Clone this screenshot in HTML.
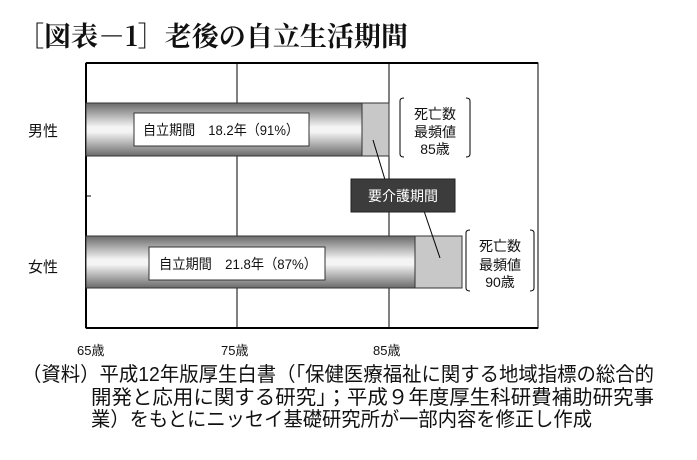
<!DOCTYPE html>
<html><head><meta charset="utf-8"><style>
body{margin:0;background:#fff;}
svg text{font-family:"Liberation Sans","Noto Sans CJK JP",sans-serif;fill:#111;}
</style></head><body>
<svg width="697" height="455" viewBox="0 0 697 455" xmlns="http://www.w3.org/2000/svg">
<defs>
<linearGradient id="g" x1="0" y1="0" x2="0" y2="1">
<stop offset="0" stop-color="#6a6a6a"/><stop offset="0.45" stop-color="#f4f4f4"/><stop offset="0.55" stop-color="#f4f4f4"/><stop offset="1" stop-color="#6a6a6a"/>
</linearGradient>
</defs>
<text x="17" y="46" font-size="27" font-weight="bold" style="font-family:'Noto Serif CJK SC','Liberation Serif',serif" textLength="391" lengthAdjust="spacingAndGlyphs">［図表－1］老後の自立生活期間</text>
<rect x="86" y="63" width="452" height="265" fill="#fff" stroke="#000" stroke-width="1"/>
<line x1="86" y1="63" x2="538" y2="63" stroke="#000" stroke-width="2"/>
<line x1="86" y1="328" x2="538" y2="328" stroke="#000" stroke-width="2"/>
<line x1="86" y1="63" x2="86" y2="328" stroke="#000" stroke-width="2"/>
<line x1="237" y1="63" x2="237" y2="328" stroke="#000"/>
<line x1="389" y1="63" x2="389" y2="328" stroke="#000"/>
<line x1="86" y1="196" x2="91" y2="196" stroke="#000"/>
<rect x="86" y="103" width="276" height="53" fill="url(#g)" stroke="#333"/>
<rect x="362" y="103" width="27" height="53" fill="#c8c8c8" stroke="#333"/>
<rect x="134" y="113" width="175" height="33" fill="#fff" stroke="#333"/>
<text x="143" y="135" font-size="14" textLength="156" lengthAdjust="spacingAndGlyphs">自立期間　18.2年（91%）</text>
<rect x="86" y="236" width="329" height="52" fill="url(#g)" stroke="#333"/>
<rect x="415" y="236" width="47" height="52" fill="#c8c8c8" stroke="#333"/>
<rect x="149" y="247" width="176" height="33" fill="#fff" stroke="#333"/>
<text x="159" y="269" font-size="14" textLength="158" lengthAdjust="spacingAndGlyphs">自立期間　21.8年（87%）</text>
<line x1="373" y1="140" x2="386" y2="183" stroke="#000"/>
<line x1="423" y1="208" x2="440" y2="258" stroke="#000"/>
<rect x="351" y="179" width="104" height="33" fill="#3c3c3c" stroke="#222"/>
<text x="403" y="201" font-size="14" text-anchor="middle" style="fill:#fff">要介護期間</text>
<path d="M404 98 Q400 98 400 101 L400 154 Q400 157 404 157" fill="none" stroke="#000"/>
<path d="M466 98 Q470 98 470 101 L470 154 Q470 157 466 157" fill="none" stroke="#000"/>
<text x="435" y="119" font-size="14" text-anchor="middle">死亡数</text>
<text x="435" y="137" font-size="14" text-anchor="middle">最頻値</text>
<text x="435" y="154" font-size="14" text-anchor="middle">85歳</text>
<path d="M470 230 Q466 230 466 233 L466 288 Q466 291 470 291" fill="none" stroke="#000"/>
<path d="M530 230 Q534 230 534 233 L534 288 Q534 291 530 291" fill="none" stroke="#000"/>
<text x="500" y="251" font-size="14" text-anchor="middle">死亡数</text>
<text x="500" y="270" font-size="14" text-anchor="middle">最頻値</text>
<text x="500" y="287" font-size="14" text-anchor="middle">90歳</text>
<text x="28" y="136" font-size="15">男性</text>
<text x="28" y="272" font-size="15">女性</text>
<text x="77" y="355" font-size="13">65歳</text>
<text x="221" y="355" font-size="13">75歳</text>
<text x="373" y="355" font-size="13">85歳</text>
<text x="22" y="381" font-size="20" textLength="632" lengthAdjust="spacingAndGlyphs">（資料）平成12年版厚生白書（「保健医療福祉に関する地域指標の総合的</text>
<text x="91" y="404" font-size="20" textLength="563" lengthAdjust="spacingAndGlyphs">開発と応用に関する研究」；平成９年度厚生科研費補助研究事</text>
<text x="91" y="426" font-size="20" textLength="501" lengthAdjust="spacingAndGlyphs">業）をもとにニッセイ基礎研究所が一部内容を修正し作成</text>
</svg>
</body></html>
